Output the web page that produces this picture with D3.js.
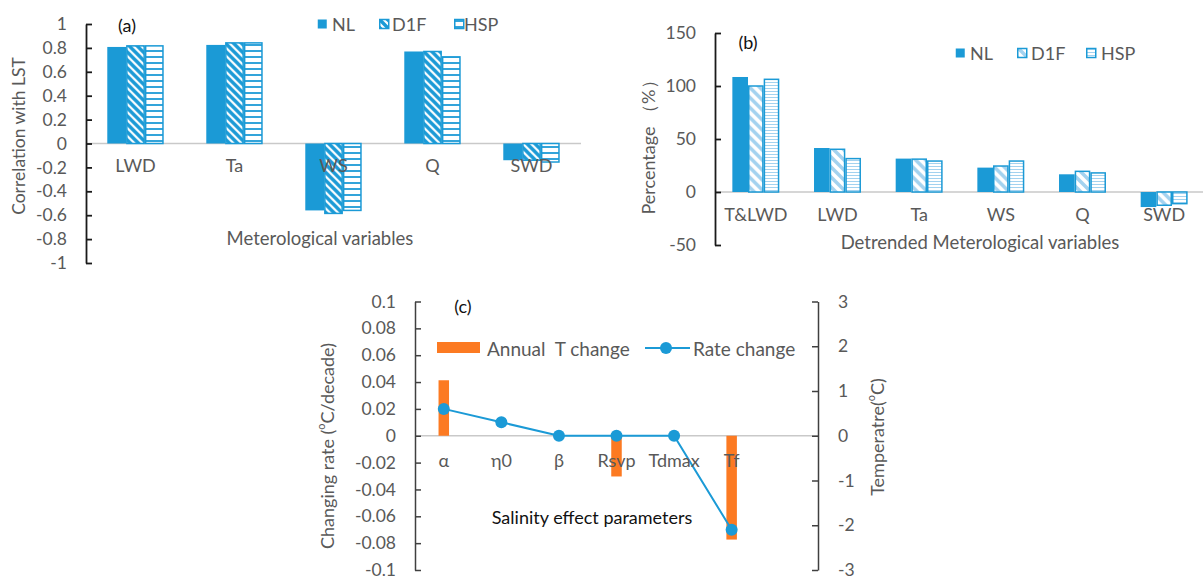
<!DOCTYPE html>
<html>
<head>
<meta charset="utf-8">
<script src="https://cdn.jsdelivr.net/npm/d3@7"></script>
<style>
  html, body { margin: 0; padding: 0; background: #fff; }
  svg { display: block; font-family: Lato, "Open Sans", sans-serif; }
</style>
</head>
<body>
<svg id="chart" width="1203" height="576"></svg>
<script>
// ---------------- DATA ----------------
const seriesNames = ["NL", "D1F", "HSP"];

// Panel (a): correlation with LST
const catsA = ["LWD", "Ta", "WS", "Q", "SWD"];
const nlA   = [0.808, 0.825, -0.56, 0.77, -0.14];
const d1fA  = [0.817, 0.842, -0.585, 0.77, -0.14];
const hspA  = [0.817, 0.842, -0.56, 0.725, -0.155];
const ticksA = [-1, -0.8, -0.6, -0.4, -0.2, 0, 0.2, 0.4, 0.6, 0.8, 1];

// Panel (b): percentage
const catsB = ["T&LWD", "LWD", "Ta", "WS", "Q", "SWD"];
const nlB   = [108.5, 41.5, 31.5, 23, 16.7, -14.2];
const d1fB  = [100, 40.3, 31, 24.5, 19.5, -12.5];
const hspB  = [106.3, 31.5, 29.2, 29.2, 18, -11];
const ticksB = [-50, 0, 50, 100, 150];

// Panel (c): salinity effect parameters (last slot of the category axis is empty)
const catsC      = ["α", "η0", "β", "Rsvp", "Tdmax", "Tf", ""];
const annualT    = [1.24, 0, 0, -0.91, 0, -2.32, null];   // right axis, °C
const rateChange = [0.02, 0.01, 0, 0, 0, -0.07, null];    // left axis, °C/decade
const ticksCL = [-0.1, -0.08, -0.06, -0.04, -0.02, 0, 0.02, 0.04, 0.06, 0.08, 0.1];
const ticksCR = [-3, -2, -1, 0, 1, 2, 3];

// ---------------- STYLE ----------------
const BLUE = "#1b9ad6";
const LIGHT = "#a3d2ef";
const ORANGE = "#fc7a22";
const GRAY_TXT = "#595959";
const ZERO = "#c9c9c9";
const TICK_FS = 17.5;
const CAT_FS = 18;
const fmt = d => String(+d.toFixed(2)).replace("\u2212", "-");

const svg = d3.select("#chart");
const defs = svg.append("defs");

function stripePattern(id, size, color, width) {
  const p = defs.append("pattern").attr("id", id).attr("patternUnits", "userSpaceOnUse")
    .attr("width", size).attr("height", size);
  p.append("rect").attr("width", size).attr("height", size).attr("fill", "#fff");
  p.append("path")
    .attr("d", `M${-size/2},${-size/2} L${size*1.5},${size*1.5} M${-size/2},${size/2} L${size/2},${size*1.5} M${size/2},${-size/2} L${size*1.5},${size/2}`)
    .attr("stroke", color).attr("stroke-width", width);
}
function hlinePattern(id, size, color, width) {
  const p = defs.append("pattern").attr("id", id).attr("patternUnits", "userSpaceOnUse")
    .attr("width", size).attr("height", size);
  p.append("rect").attr("width", size).attr("height", size).attr("fill", "#fff");
  p.append("line").attr("x1", 0).attr("x2", size).attr("y1", size/2).attr("y2", size/2)
    .attr("stroke", color).attr("stroke-width", width);
}
stripePattern("aD1F", 8, BLUE, 3.4);
hlinePattern("aHSP", 6, BLUE, 1.8);
stripePattern("bD1F", 10, LIGHT, 3.5);
hlinePattern("bHSP", 3, LIGHT, 1);

function styleAxis(g, color, width) {
  g.select(".domain").attr("stroke", color).attr("stroke-width", width);
  g.selectAll(".tick line").attr("stroke", color).attr("stroke-width", width);
  g.selectAll(".tick text").attr("fill", GRAY_TXT).style("font-size", TICK_FS + "px")
    .style("font-family", "Lato, sans-serif");
}

function groupedPanel(cfg) {
  const x = d3.scaleBand().domain(cfg.cats).range(cfg.xr)
    .paddingInner(cfg.pad).paddingOuter(cfg.pad / 2);
  const x1 = d3.scaleBand().domain(seriesNames).range([0, x.bandwidth()]);
  const y = d3.scaleLinear().domain(cfg.ydom).range(cfg.yr);
  const g = svg.append("g");

  g.append("line").attr("x1", cfg.xr[0]).attr("x2", cfg.xr[1])
    .attr("y1", y(0)).attr("y2", y(0)).attr("stroke", ZERO).attr("stroke-width", 1.5);

  const data = cfg.cats.map((c, i) => ({ c, vals: cfg.series.map((s, j) => ({ s: seriesNames[j], v: s[i] })) }));
  const grp = g.selectAll("g.grp").data(data).join("g").attr("transform", d => `translate(${x(d.c)},0)`);
  grp.selectAll("rect").data(d => d.vals).join("rect")
    .attr("x", d => x1(d.s) + (d.s === "NL" ? 0 : 0.75))
    .attr("width", d => x1.bandwidth() - (d.s === "NL" ? 0 : 1.5))
    .attr("y", d => Math.min(y(d.v), y(0)))
    .attr("height", d => Math.abs(y(d.v) - y(0)))
    .attr("fill", d => d.s === "NL" ? BLUE : `url(#${cfg.pat[d.s]})`)
    .attr("stroke", d => d.s === "NL" ? "none" : BLUE)
    .attr("stroke-width", 1.5);

  const ay = g.append("g").attr("transform", `translate(${cfg.xr[0]},0)`)
    .call(d3.axisLeft(y).tickValues(cfg.ticks).tickFormat(fmt).tickSizeInner(-6).tickSizeOuter(0).tickPadding(19));
  styleAxis(ay, "#1a1a1a", 1.8);

  const ax = g.append("g").attr("transform", `translate(0,${y(0)})`)
    .call(d3.axisBottom(x).tickSize(0).tickPadding(16));
  ax.select(".domain").remove();
  ax.selectAll("text").attr("fill", GRAY_TXT).style("font-size", CAT_FS + "px").style("font-family", "Lato, sans-serif");
  return { x, y };
}

groupedPanel({
  cats: catsA, series: [nlA, d1fA, hspA], xr: [86, 581], pad: 0.43,
  ydom: [-1, 1], yr: [263, 24], ticks: ticksA, pat: { D1F: "aD1F", HSP: "aHSP" }
});
groupedPanel({
  cats: catsB, series: [nlB, d1fB, hspB], xr: [715, 1205], pad: 0.425,
  ydom: [-50, 150], yr: [245, 33], ticks: ticksB, pat: { D1F: "bD1F", HSP: "bHSP" }
});

function text(x, y, s, opts = {}) {
  const t = svg.append("text").attr("x", x).attr("y", y).text(s)
    .attr("text-anchor", opts.anchor || "middle").attr("dominant-baseline", "central")
    .attr("fill", opts.fill || GRAY_TXT).style("font-size", (opts.size || 18) + "px");
  if (opts.rotate) t.attr("transform", `rotate(-90,${x},${y})`);
  return t;
}

// Panel A texts
text(127, 25, "(a)", { fill: "#111", size: 18 });
text(18, 136, "Correlation with LST", { rotate: true, size: 17.5 });
text(320, 238, "Meterological variables", { size: 18.5 });
function legend(items, y, size) {
  items.forEach(it => {
    svg.append("rect").attr("x", it.bx + 0.75).attr("y", y - 4.5).attr("width", 9).attr("height", 9)
      .attr("fill", it.fill).attr("stroke", it.stroke).attr("stroke-width", 1.5);
    text(it.tx, y, it.label, { anchor: "start", size });
  });
}
legend([
  { bx: 317, tx: 332, label: seriesNames[0], fill: BLUE, stroke: "none" },
  { bx: 379, tx: 392, label: seriesNames[1], fill: "url(#aD1F)", stroke: BLUE },
  { bx: 454, tx: 464, label: seriesNames[2], fill: "url(#aHSP)", stroke: BLUE }
], 24, 18);

// Panel B texts
text(748, 42, "(b)", { fill: "#111", size: 18 });
text(648, 143, "Percentage （%）", { rotate: true, size: 18 });
text(980, 242, "Detrended Meterological variables", { size: 18.5 });
legend([
  { bx: 955, tx: 970, label: seriesNames[0], fill: BLUE, stroke: "none" },
  { bx: 1017, tx: 1031, label: seriesNames[1], fill: "url(#bD1F)", stroke: BLUE },
  { bx: 1086, tx: 1101, label: seriesNames[2], fill: "url(#bHSP)", stroke: BLUE }
], 53, 18);

// ---------------- PANEL C ----------------
const xC = d3.scaleBand().domain(catsC).range([415, 818]);
const yL = d3.scaleLinear().domain([-0.1, 0.1]).range([570, 301.5]);
const yR = d3.scaleLinear().domain([-3, 3]).range([570, 301.5]);
const gC = svg.append("g");
gC.append("line").attr("x1", 415).attr("x2", 818).attr("y1", yL(0)).attr("y2", yL(0))
  .attr("stroke", ZERO).attr("stroke-width", 1.5);

const barW = 10.5;
gC.selectAll("rect.bar").data(catsC.map((c, i) => ({ c, v: annualT[i] })).filter(d => d.v))
  .join("rect").attr("class", "bar")
  .attr("x", d => xC(d.c) + xC.bandwidth() / 2 - barW / 2).attr("width", barW)
  .attr("y", d => Math.min(yR(d.v), yR(0))).attr("height", d => Math.abs(yR(d.v) - yR(0)))
  .attr("fill", ORANGE);

const lineData = catsC.map((c, i) => ({ c, v: rateChange[i] })).filter(d => d.v !== null);
gC.append("path").datum(lineData)
  .attr("d", d3.line().x(d => xC(d.c) + xC.bandwidth() / 2).y(d => yL(d.v)))
  .attr("fill", "none").attr("stroke", BLUE).attr("stroke-width", 2);
gC.selectAll("circle.pt").data(lineData).join("circle").attr("class", "pt")
  .attr("cx", d => xC(d.c) + xC.bandwidth() / 2).attr("cy", d => yL(d.v)).attr("r", 6)
  .attr("fill", BLUE);

const axL = gC.append("g").attr("transform", "translate(415,0)")
  .call(d3.axisLeft(yL).tickValues(ticksCL).tickFormat(fmt).tickSizeInner(-6).tickSizeOuter(0).tickPadding(19));
styleAxis(axL, "#404040", 1.5);
const axR = gC.append("g").attr("transform", "translate(818,0)")
  .call(d3.axisRight(yR).tickValues(ticksCR).tickFormat(fmt).tickSizeInner(-6).tickSizeOuter(0).tickPadding(20));
styleAxis(axR, "#404040", 1.5);
const axC = gC.append("g").attr("transform", `translate(0,${yL(0)})`)
  .call(d3.axisBottom(xC).tickSize(0).tickPadding(18));
axC.select(".domain").remove();
axC.selectAll("text").attr("fill", GRAY_TXT).style("font-size", CAT_FS + "px").style("font-family", "Lato, sans-serif");

text(463, 306, "(c)", { fill: "#111", size: 18 });
text(592, 517, "Salinity effect parameters", { fill: "#111", size: 18 });
const tl = text(327, 446, "Changing rate (", { rotate: true, size: 18 });
tl.append("tspan").attr("baseline-shift", "super").style("font-size", "11px").text("o");
tl.append("tspan").text("C/decade)");
const tr = text(877, 437, "Temperatre(", { rotate: true, size: 18 });
tr.append("tspan").attr("baseline-shift", "super").style("font-size", "11px").text("o");
tr.append("tspan").text("C)");

svg.append("rect").attr("x", 437).attr("y", 342).attr("width", 43).attr("height", 11).attr("fill", ORANGE);
text(487, 348, "Annual  T change", { anchor: "start", size: 19 }).style("white-space", "pre");
svg.append("line").attr("x1", 645).attr("x2", 690).attr("y1", 348).attr("y2", 348)
  .attr("stroke", BLUE).attr("stroke-width", 2);
svg.append("circle").attr("cx", 666).attr("cy", 348).attr("r", 6).attr("fill", BLUE);
text(693, 348, "Rate change", { anchor: "start", size: 19 });
</script>
</body>
</html>
